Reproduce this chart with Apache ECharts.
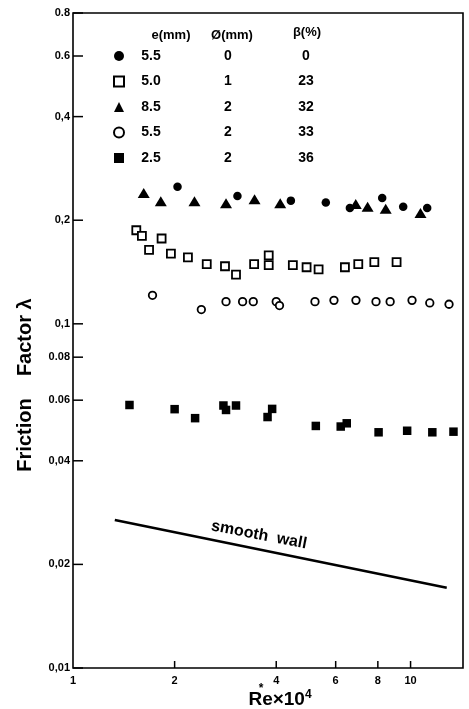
<!DOCTYPE html>
<html>
<head>
<meta charset="utf-8">
<script src="https://cdn.jsdelivr.net/npm/echarts/dist/echarts.min.js"></script>
<style>
  html, body { margin: 0; padding: 0; background: #fff; }
  #chart { width: 469px; height: 709px; }
</style>
</head>
<body>
<div id="chart"></div>
<script>
// axis ranges (log-log)
const xMin = 1, xMax = 14.3
const yMin = 0.01, yMax = 0.8

// tick marks and labels
const xTickValues = [1, 2, 4, 6, 8, 10]
const xTickLabels = ['1', '2', '4', '6', '8', '10']
const yTickValues = [0.8, 0.6, 0.4, 0.2, 0.1, 0.08, 0.06, 0.04, 0.02, 0.01]
const yTickLabels = ['0.8', '0.6', '0,4', '0,2', '0,1', '0.08', '0.06', '0,04', '0,02', '0,01']

// legend table: e(mm), Ø(mm), β(%)
const seriesNames = ['s1', 's2', 's3', 's4', 's5']
const legE = ['5.5', '5.0', '8.5', '5.5', '2.5']
const legD = ['0', '1', '2', '2', '2']
const legB = ['0', '23', '32', '33', '36']

// ● e=5.5 Ø=0
const dotX = [2.04, 3.07, 4.42, 5.61, 6.61, 8.24, 9.51, 11.2]
const dotY = [0.250, 0.235, 0.228, 0.225, 0.217, 0.232, 0.219, 0.217]
// □ e=5.0 Ø=1
const sqX = [1.54, 1.60, 1.68, 1.83, 1.95, 2.19, 2.49, 2.82, 3.04, 3.44, 3.80, 3.80, 4.48, 4.92, 5.34, 6.39, 7.00, 7.81, 9.09]
const sqY = [0.187, 0.180, 0.164, 0.177, 0.160, 0.156, 0.149, 0.147, 0.139, 0.149, 0.148, 0.158, 0.148, 0.146, 0.144, 0.146, 0.149, 0.151, 0.151]
// ▲ e=8.5 Ø=2
const triX = [1.62, 1.82, 2.29, 2.84, 3.45, 4.11, 6.88, 7.46, 8.44, 10.7]
const triY = [0.240, 0.227, 0.227, 0.224, 0.230, 0.224, 0.223, 0.219, 0.216, 0.210]
// ○ e=5.5 Ø=2
const ringX = [1.72, 2.40, 2.84, 3.18, 3.42, 4.00, 4.09, 5.21, 5.93, 6.89, 7.90, 8.70, 10.1, 11.4, 13.0]
const ringY = [0.121, 0.110, 0.116, 0.116, 0.116, 0.116, 0.113, 0.116, 0.117, 0.117, 0.116, 0.116, 0.117, 0.115, 0.114]
// ■ e=2.5 Ø=2
const blkX = [1.47, 2.00, 2.30, 2.79, 2.84, 3.04, 3.77, 3.89, 5.24, 6.21, 6.47, 8.04, 9.77, 11.6, 13.4]
const blkY = [0.0581, 0.0565, 0.0532, 0.0579, 0.0562, 0.0579, 0.0536, 0.0566, 0.0505, 0.0503, 0.0514, 0.0484, 0.0489, 0.0484, 0.0486]
// smooth wall line
const smoothX = [1.33, 12.8]
const smoothY = [0.0269, 0.0171]

const FONT = 'Liberation Sans, Arial, sans-serif'
const zip = (xs, ys) => xs.map((x, i) => [x, ys[i]])

const chart = echarts.init(document.getElementById('chart'))

const filled = { color: '#000', opacity: 1 }
const hollow = { color: '#fff', borderColor: '#000', borderWidth: 1.8, opacity: 1 }

function scatter(name, symbol, size, style, xs, ys) {
  return {
    name, type: 'scatter', symbol, symbolSize: size,
    itemStyle: style, data: zip(xs, ys), z: 3
  }
}

const option = {
  backgroundColor: '#fff',
  animation: false,
  grid: {
    left: 73, right: 6, top: 13, bottom: 41,
    show: true, borderColor: '#000', borderWidth: 1.6
  },
  xAxis: {
    type: 'log', logBase: 10, min: xMin, max: xMax,
    axisLine: { show: false }, axisTick: { show: false },
    axisLabel: { show: false }, splitLine: { show: false }
  },
  yAxis: {
    type: 'log', logBase: 10, min: yMin, max: yMax,
    axisLine: { show: false }, axisTick: { show: false },
    axisLabel: { show: false }, splitLine: { show: false }
  },
  legend: {
    orient: 'vertical', left: 113, top: 49, padding: 0,
    itemWidth: 10, itemHeight: 10, itemGap: 11.5,
    selectedMode: false,
    data: seriesNames,
    formatter: name => {
      const i = seriesNames.indexOf(name)
      return `{e|${legE[i]}}{d|${legD[i]}}{b|${legB[i]}}`
    },
    textStyle: {
      color: '#000',
      rich: {
        e: { width: 44, align: 'center', fontSize: 14, fontWeight: 'bold', fontFamily: FONT, lineHeight: 16 },
        d: { width: 110, align: 'center', fontSize: 14, fontWeight: 'bold', fontFamily: FONT, lineHeight: 16 },
        b: { width: 46, align: 'center', fontSize: 14, fontWeight: 'bold', fontFamily: FONT, lineHeight: 16 }
      }
    }
  },
  graphic: [
    { type: 'text', x: 171, y: 35, style: { text: 'e(mm)', align: 'center', verticalAlign: 'middle', font: `bold 13px ${FONT}`, fill: '#000' } },
    { type: 'text', x: 232, y: 35, style: { text: 'Ø(mm)', align: 'center', verticalAlign: 'middle', font: `bold 13px ${FONT}`, fill: '#000' } },
    { type: 'text', x: 307, y: 32, style: { text: 'β(%)', align: 'center', verticalAlign: 'middle', font: `bold 13px ${FONT}`, fill: '#000' } },
    { type: 'text', x: 25, y: 385, rotation: Math.PI / 2,
      style: { text: 'Friction    Factor λ', align: 'center', verticalAlign: 'middle', font: `bold 20px ${FONT}`, fill: '#000' } },
    { type: 'text', x: 280, y: 699,
      style: {
        text: '{m|Re×10}{s|4}', align: 'center', verticalAlign: 'middle', fill: '#000',
        rich: {
          m: { fontSize: 19, fontWeight: 'bold', fontFamily: FONT, lineHeight: 20, verticalAlign: 'bottom' },
          s: { fontSize: 12, fontWeight: 'bold', fontFamily: FONT, lineHeight: 20, verticalAlign: 'top' }
        }
      } },
    { type: 'text', x: 261, y: 689, style: { text: '*', align: 'center', verticalAlign: 'middle', font: `bold 12px ${FONT}`, fill: '#000' } },
    { type: 'text', x: 259, y: 535, rotation: -0.19,
      style: { text: 'smooth  wall', align: 'center', verticalAlign: 'middle', font: `bold 16px ${FONT}`, fill: '#000' } }
  ],
  series: [
    scatter('s1', 'circle', 8.5, filled, dotX, dotY),
    scatter('s2', 'rect', 8, hollow, sqX, sqY),
    scatter('s3', 'triangle', [12, 10], filled, triX, triY),
    scatter('s4', 'circle', 7.5, hollow, ringX, ringY),
    scatter('s5', 'rect', 8.5, filled, blkX, blkY),
    {
      name: 'smooth', type: 'line', data: zip(smoothX, smoothY),
      symbol: 'none', lineStyle: { color: '#000', width: 2.6 }, z: 2
    },
    {
      // y ticks + labels
      type: 'custom', silent: true, z: 5,
      data: yTickValues.map((v, i) => [xMin, v, i]),
      renderItem: (params, api) => {
        const p = api.coord([api.value(0), api.value(1)])
        const i = api.value(2)
        return {
          type: 'group',
          children: [
            { type: 'line', shape: { x1: p[0], y1: p[1], x2: p[0] + 10, y2: p[1] }, style: { stroke: '#000', lineWidth: 1.5 } },
            { type: 'text', style: { text: yTickLabels[i], x: p[0] - 3, y: p[1], align: 'right', verticalAlign: 'middle', font: `bold 11px ${FONT}`, fill: '#000' } }
          ]
        }
      }
    },
    {
      // x ticks + labels
      type: 'custom', silent: true, z: 5,
      data: xTickValues.map((v, i) => [v, yMin, i]),
      renderItem: (params, api) => {
        const v = api.value(0)
        const p = api.coord([v, api.value(1)])
        const i = api.value(2)
        const children = [
          { type: 'text', style: { text: xTickLabels[i], x: p[0], y: p[1] + 13, align: 'center', verticalAlign: 'middle', font: `bold 11px ${FONT}`, fill: '#000' } }
        ]
        if (v > xMin) {
          children.push({ type: 'line', shape: { x1: p[0], y1: p[1], x2: p[0], y2: p[1] - 7 }, style: { stroke: '#000', lineWidth: 1.5 } })
        }
        return { type: 'group', children }
      }
    }
  ]
}

chart.setOption(option)
</script>
</body>
</html>
